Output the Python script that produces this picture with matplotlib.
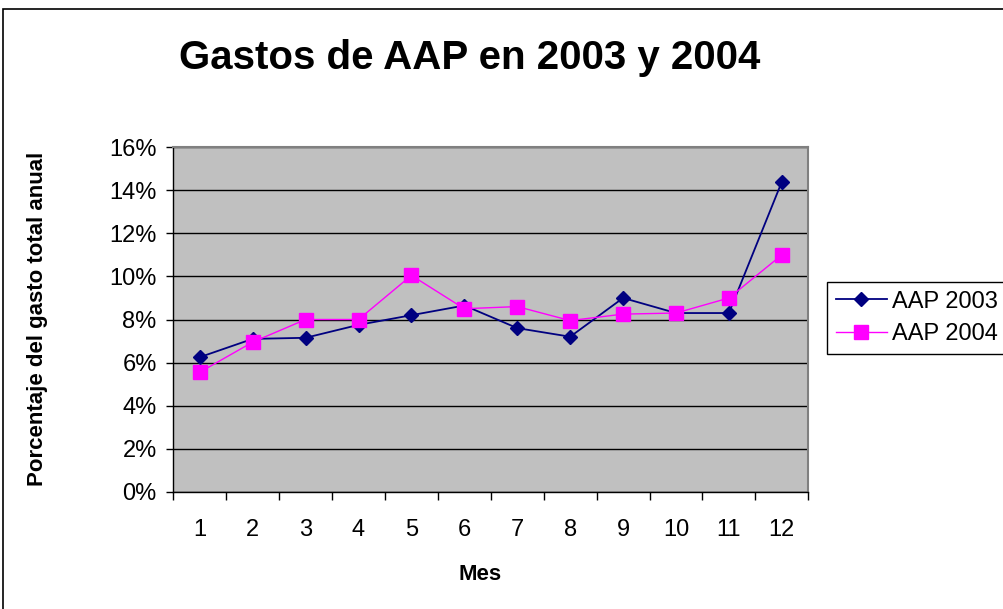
import matplotlib
matplotlib.use("Agg")
import matplotlib.pyplot as plt
from matplotlib.ticker import FixedLocator, PercentFormatter
from matplotlib.patches import Rectangle

plt.rcParams['font.family'] = ['Liberation Sans', 'DejaVu Sans']

meses = [1, 2, 3, 4, 5, 6, 7, 8, 9, 10, 11, 12]
aap_2003 = [6.25, 7.1, 7.15, 7.75, 8.2, 8.65, 7.6, 7.2, 9.0, 8.3, 8.3, 14.4]
aap_2004 = [5.55, 6.95, 8.0, 8.0, 10.05, 8.5, 8.6, 7.95, 8.25, 8.3, 9.0, 11.0]
y_ticks = [0, 2, 4, 6, 8, 10, 12, 14, 16]

W, H = 1004, 609
fig = plt.figure(figsize=(W / 100, H / 100), dpi=100)
# outer chart border
fig.patches.append(Rectangle((3 / W, -0.01), 1.1, 1 - 9 / H + 0.01, transform=fig.transFigure,
                             fill=False, edgecolor='black', linewidth=1.2))

ax = fig.add_axes([173.3 / W, 1 - 491.7 / H, 635 / W, 344.4 / H])
ax.set_facecolor('#C0C0C0')

ax.plot(meses, aap_2003, color='#000080', marker='D', markersize=7, linewidth=1.3,
        label='AAP 2003', zorder=3)
ax.plot(meses, aap_2004, color='#FF00FF', marker='s', markersize=9.5, linewidth=1.0,
        label='AAP 2004', zorder=3)

ax.set_xlim(0.5, 12.5)
ax.set_ylim(0, 16)
ax.set_yticks(y_ticks)
ax.yaxis.set_major_formatter(PercentFormatter(decimals=0))
ax.grid(axis='y', color='black', linewidth=1.0)
ax.set_axisbelow(True)

ax.xaxis.set_major_locator(FixedLocator([m - 0.5 for m in meses] + [12.5]))
ax.xaxis.set_minor_locator(FixedLocator(meses))
ax.set_xticklabels([])
ax.set_xticklabels([str(m) for m in meses], minor=True)
ax.tick_params(axis='x', which='major', direction='out', length=6, width=1, color='black')
ax.tick_params(axis='x', which='minor', length=0, pad=20, labelsize=17)
ax.tick_params(axis='y', direction='out', length=5, width=1, pad=7, labelsize=17)

for s in ['top', 'right']:
    ax.spines[s].set_color('#808080')
    ax.spines[s].set_linewidth(1.5)
for s in ['left', 'bottom']:
    ax.spines[s].set_color('black')
    ax.spines[s].set_linewidth(1.0)

fig.text(480 / W, 1 - 575 / H, 'Mes', fontsize=16, fontweight='bold', ha='center', va='center')
fig.text(38 / W, 1 - 319 / H, 'Porcentaje del gasto total anual', fontsize=16, fontweight='bold',
         rotation=90, ha='center', va='center')

fig.text(470 / W, 1 - 58 / H, 'Gastos de AAP en 2003 y 2004', fontsize=29, fontweight='bold',
         ha='center', va='center')

leg = fig.legend(loc='upper left', bbox_to_anchor=(827 / W, 1 - 282 / H), fontsize=17,
                 frameon=True, fancybox=False, edgecolor='black', framealpha=1,
                 handlelength=2.16, borderpad=0.36, labelspacing=0.45, handletextpad=0.22,
                 borderaxespad=0)
leg.get_frame().set_linewidth(1.0)

fig.savefig('out.png', dpi=100)
